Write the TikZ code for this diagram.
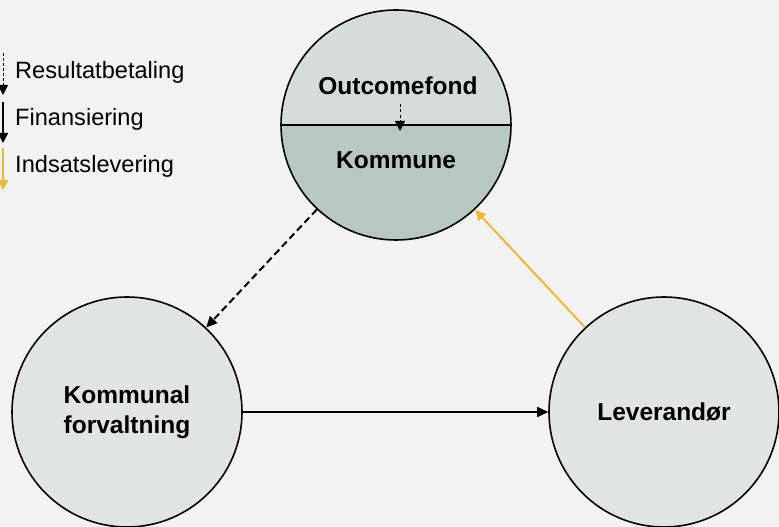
\documentclass[tikz,border=0pt]{standalone}
\usepackage{fontspec}
\setmainfont{Liberation Sans}
\usetikzlibrary{arrows.meta}
\definecolor{bg}{HTML}{F2F2F2}
\definecolor{topc}{HTML}{D5DDDA}
\definecolor{botc}{HTML}{B8C7C2}
\definecolor{sidec}{HTML}{E1E4E3}
\definecolor{gold}{HTML}{EBB73C}
\tikzset{
  x=1pt,y=1pt,
  bubble/.style={circle,draw=black,line width=1.6pt,minimum size=230pt,inner sep=0pt,font=\fontsize{24.5}{29.5}\selectfont\bfseries,align=center},
  lbl/.style={font=\fontsize{24.5}{29}\selectfont\bfseries,inner sep=0pt},
  legtxt/.style={font=\fontsize{23.6}{28}\selectfont,inner sep=0pt,anchor=base west},
  bigtip/.style={-{Triangle[length=11pt,width=10pt]}},
  smalltip/.style={-{Triangle[length=10pt,width=10pt]}},
  flowres/.style={bigtip,line width=2pt,dash pattern=on 7pt off 4pt},
  flowfin/.style={bigtip,line width=1.8pt},
  flowind/.style={bigtip,line width=2pt,draw=gold,fill=gold},
}
\begin{document}
\begin{tikzpicture}
\fill[bg] (0,0) rectangle (779,527);
\useasboundingbox (0,0) rectangle (779,527);
% top circle halves
\fill[topc] (281,402) arc[start angle=180,end angle=0,radius=115] -- cycle;
\fill[botc] (281,402) arc[start angle=180,end angle=360,radius=115] -- cycle;
\node[bubble] (top) at (396,402) {};
\draw[line width=1.6pt] (top.west) -- (top.east);
\node[lbl,anchor=base] (outc) at (398,432) {Outcomefond};
\node[lbl,anchor=base] (komm) at (396,358) {Kommune};
\coordinate (ia) at (400,423);
\coordinate (ib) at (400,396);
\draw[smalltip,line width=1pt,dash pattern=on 3pt off 2.5pt] (ia) -- (ib);
% side circles
\node[bubble,fill=sidec] (left) at (127,115) {Kommunal\\forvaltning};
\node[bubble,fill=sidec] (right) at (664,115) {Leverandør};
% connectors
\draw[flowres] (top) -- (left);
\draw[flowfin] (left) -- (right);
\draw[flowind] (right) -- (top);
% legend
\coordinate (l1a) at (3,474);
\coordinate (l1b) at (3,432);
\coordinate (l2a) at (3,425);
\coordinate (l2b) at (3,384);
\coordinate (l3a) at (3,379);
\coordinate (l3b) at (3,337);
\draw[smalltip,line width=1pt,dash pattern=on 3pt off 2pt] (l1a) -- (l1b);
\draw[smalltip,line width=1.5pt] (l2a) -- (l2b);
\draw[smalltip,line width=1.6pt,draw=gold,fill=gold] (l3a) -- (l3b);
\node[legtxt] (t1) at (15,448) {Resultatbetaling};
\node[legtxt] (t2) at (15,401) {Finansiering};
\node[legtxt] (t3) at (15,354) {Indsatslevering};
\end{tikzpicture}
\end{document}
